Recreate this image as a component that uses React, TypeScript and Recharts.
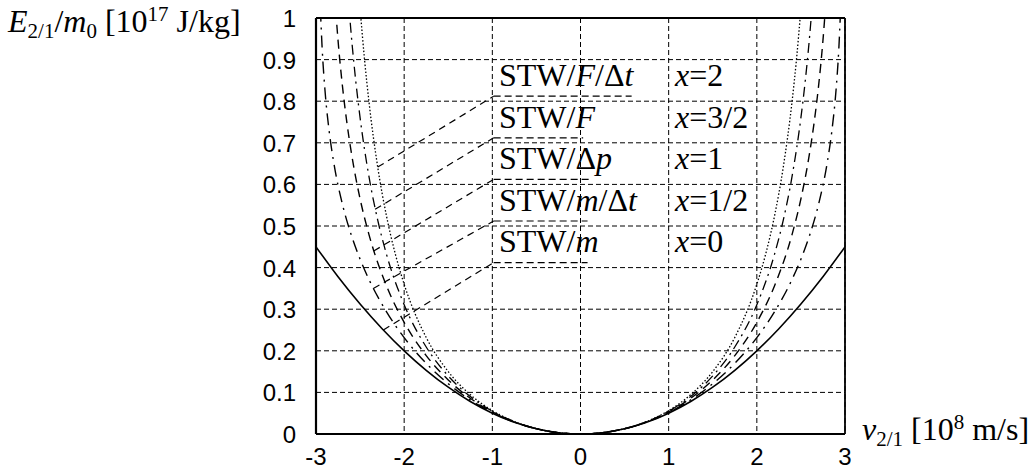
import React from "react";
import { LineChart, Line, XAxis, YAxis, CartesianGrid, ReferenceLine } from "recharts";

// ---- data (positive half; curves are symmetric in v) ----
const vX0 = [0, 0.25, 0.5, 0.75, 1, 1.25, 1.5, 1.75, 2, 2.25, 2.5, 2.75, 3];
const eX0 = [0, 0.003125, 0.0125, 0.028125, 0.05, 0.078125, 0.1125, 0.153125, 0.2, 0.253125, 0.3125, 0.378125, 0.45];

const vXHalf = [0, 0.25, 0.5, 0.75, 1, 1.25, 1.5, 1.75, 2, 2.2, 2.4, 2.5, 2.6, 2.7, 2.8, 2.85, 2.9, 2.93, 2.95];
const eXHalf = [0, 0.00313, 0.01259, 0.02858, 0.05149, 0.08194, 0.12089, 0.1699, 0.23166, 0.2935, 0.37181, 0.42032, 0.47854, 0.55208, 0.65424, 0.7268, 0.83103, 0.92631, 1.02037];

const vX1 = [0, 0.25, 0.5, 0.75, 1, 1.25, 1.5, 1.75, 2, 2.2, 2.4, 2.5, 2.6, 2.65, 2.7, 2.75, 2.8];
const eX1 = [0, 0.00314, 0.01268, 0.02905, 0.05303, 0.08594, 0.1299, 0.18853, 0.26833, 0.35595, 0.48, 0.56533, 0.67751, 0.74909, 0.83622, 0.94615, 1.09189];

const vX3h = [0, 0.25, 0.5, 0.75, 1, 1.25, 1.5, 1.75, 2, 2.2, 2.3, 2.4, 2.5, 2.55, 2.6, 2.65];
const eX3h = [0, 0.00314, 0.01277, 0.02952, 0.05462, 0.09014, 0.13959, 0.20918, 0.3108, 0.43169, 0.51415, 0.61968, 0.76036, 0.85037, 0.95919, 1.09407];

const vX2 = [0, 0.25, 0.5, 0.75, 1, 1.25, 1.5, 1.75, 2, 2.1, 2.2, 2.3, 2.4, 2.45, 2.5];
const eX2 = [0, 0.00315, 0.01286, 0.03, 0.05625, 0.09454, 0.15, 0.23211, 0.36, 0.43235, 0.52356, 0.64164, 0.8, 0.90113, 1.02273];

const xTicks = [-3, -2, -1, 0, 1, 2, 3];
const yTicks = [0, 0.1, 0.2, 0.3, 0.4, 0.5, 0.6, 0.7, 0.8, 0.9, 1];

// leader lines: start on curve -> end at label underline; underline end
const leaderStartV = [-2.3, -2.33, -2.345, -2.35, -2.236];
const leaderStartE = [0.6416, 0.54, 0.44, 0.35, 0.25];
const leaderEndV = [-0.985, -0.985, -0.985, -0.985, -0.985];
const leaderEndE = [0.812, 0.712, 0.612, 0.512, 0.412];
const underlineEndV = [0.58, 0.03, 0.1, 0.08, 0.08];

const mirror = (vs: number[], es: number[]) => {
  const out: { v: number; e: number }[] = [];
  for (let i = vs.length - 1; i > 0; i--) out.push({ v: -vs[i], e: es[i] });
  for (let i = 0; i < vs.length; i++) out.push({ v: vs[i], e: es[i] });
  return out;
};

const series = [
  { name: "x=0", data: mirror(vX0, eX0), dash: undefined as string | undefined, w: 1.6 },
  { name: "x=1/2", data: mirror(vXHalf, eXHalf), dash: "12 6 2 6", w: 1.4 },
  { name: "x=1", data: mirror(vX1, eX1), dash: "9 6", w: 1.4 },
  { name: "x=3/2", data: mirror(vX3h, eX3h), dash: "10 5 2 5", w: 1.3 },
  { name: "x=2", data: mirror(vX2, eX2), dash: "1.5 2", w: 1.3 },
];

const SANS = "'Liberation Sans', Arial, sans-serif";
const SERIF = "'Liberation Serif', 'Times New Roman', serif";

const XTick = (p: any) => (
  <text x={p.x} y={p.y + 31} textAnchor="middle" fontFamily={SANS} fontSize={24} fill="#000">
    {p.payload.value}
  </text>
);
const YTick = (p: any) => (
  <text x={296} y={p.y + 9} textAnchor="end" fontFamily={SANS} fontSize={24} fill="#000">
    {p.payload.value}
  </text>
);

const rowLabels = [
  <>STW/<tspan fontStyle="italic">F</tspan>/Δ<tspan fontStyle="italic">t</tspan></>,
  <>STW/<tspan fontStyle="italic">F</tspan></>,
  <>STW/Δ<tspan fontStyle="italic">p</tspan></>,
  <>STW/<tspan fontStyle="italic">m</tspan>/Δ<tspan fontStyle="italic">t</tspan></>,
  <>STW/<tspan fontStyle="italic">m</tspan></>,
];
const rowX = ["2", "3/2", "1", "1/2", "0"];

export default function App() {
  return (
    <div style={{ position: "absolute", left: 0, top: 0, width: 1029, height: 470, background: "#fff" }}>
      <LineChart width={1029} height={470} margin={{ top: 18, right: 184, bottom: 0, left: 0 }}>
        <CartesianGrid stroke="#000" strokeDasharray="5 3" strokeWidth={1} />
        <XAxis
          type="number"
          dataKey="v"
          domain={[-3, 3]}
          ticks={xTicks}
          height={36}
          tickSize={0}
          tickMargin={0}
          axisLine={false}
          tickLine={false}
          tick={XTick}
          allowDataOverflow
        />
        <YAxis
          type="number"
          dataKey="e"
          domain={[0, 1]}
          ticks={yTicks}
          width={316}
          tickSize={0}
          tickMargin={0}
          axisLine={false}
          tickLine={false}
          tick={YTick}
          allowDataOverflow
        />
        {leaderStartV.map((sv, i) => (
          <ReferenceLine
            key={"ld" + i}
            segment={[
              { x: sv, y: leaderStartE[i] },
              { x: leaderEndV[i], y: leaderEndE[i] },
            ]}
            stroke="#000"
            strokeWidth={1.2}
            strokeDasharray="7 5"
          />
        ))}
        {leaderEndV.map((ev, i) => (
          <ReferenceLine
            key={"ul" + i}
            segment={[
              { x: ev, y: leaderEndE[i] },
              { x: underlineEndV[i], y: leaderEndE[i] },
            ]}
            stroke="#000"
            strokeWidth={1.2}
            strokeDasharray="7 4"
          />
        ))}
        {series.map((s) => (
          <Line
            key={s.name}
            data={s.data}
            dataKey="e"
            type="monotone"
            stroke="#000"
            strokeWidth={s.w}
            strokeDasharray={s.dash}
            dot={false}
            activeDot={false}
            isAnimationActive={false}
          />
        ))}
        <ReferenceLine x={-3} stroke="#000" strokeWidth={2.2} />
        <ReferenceLine x={3} stroke="#000" strokeWidth={1.8} />
        <ReferenceLine y={0} stroke="#000" strokeWidth={2.2} />
        <ReferenceLine y={1} stroke="#000" strokeWidth={1.8} />
      </LineChart>
      <svg
        width={1029}
        height={470}
        style={{ position: "absolute", left: 0, top: 0, pointerEvents: "none" }}
      >
        <text x={8} y={32} fontFamily={SERIF} fontSize={32} fill="#000">
          <tspan fontStyle="italic">E</tspan>
          <tspan fontSize={21} dy={6}>2/1</tspan>
          <tspan dy={-6}>/</tspan>
          <tspan fontStyle="italic">m</tspan>
          <tspan fontSize={21} dy={6}>0</tspan>
          <tspan dy={-6}> [10</tspan>
          <tspan fontSize={21} dy={-11}>17</tspan>
          <tspan dy={11}> J/kg]</tspan>
        </text>
        <text x={862} y={440} fontFamily={SERIF} fontSize={32} fill="#000">
          <tspan fontStyle="italic">v</tspan>
          <tspan fontSize={21} dy={6}>2/1</tspan>
          <tspan dy={-6}> [10</tspan>
          <tspan fontSize={21} dy={-11}>8</tspan>
          <tspan dy={11}> m/s]</tspan>
        </text>
        {rowLabels.map((lab, i) => (
          <text key={"r" + i} x={499} y={86 + i * 41.6} fontFamily={SERIF} fontSize={32} fill="#000">
            {lab}
          </text>
        ))}
        {rowX.map((t, i) => (
          <text key={"x" + i} x={675} y={86 + i * 41.6} fontFamily={SERIF} fontSize={32} fill="#000">
            <tspan fontStyle="italic">x</tspan>={t}
          </text>
        ))}
      </svg>
    </div>
  );
}
